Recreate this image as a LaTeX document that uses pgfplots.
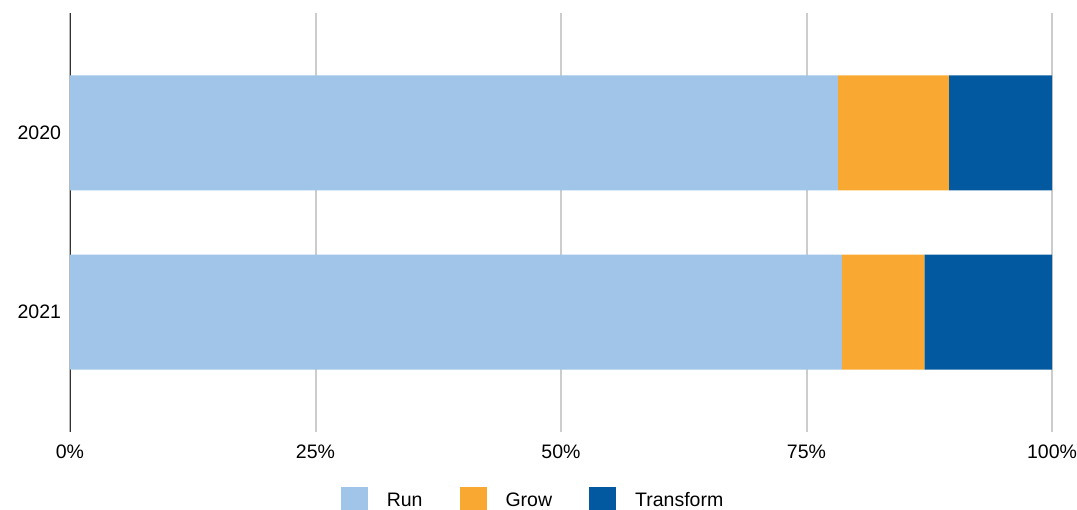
\documentclass[border=0pt]{standalone}
\usepackage{pgfplots}
\pgfplotsset{compat=1.18}
\usepackage{fontspec}
\setmainfont{Liberation Sans}
\definecolor{run}{RGB}{160,197,232}
\definecolor{grow}{RGB}{249,169,50}
\definecolor{transform}{RGB}{3,89,159}
\definecolor{axisdark}{RGB}{51,51,51}
\definecolor{gridgray}{RGB}{204,204,204}
\begin{document}
\begin{tikzpicture}[x=1pt,y=1pt]
\begin{axis}[
  at={(0,0)}, anchor=south west,
  width=982pt, height=419pt, scale only axis,
  xbar stacked, bar width=0.642,
  xmin=0, xmax=100, ymin=-0.67, ymax=1.67, y dir=reverse,
  ytick={0,1}, yticklabels={2020,2021},
  xtick={0,25,50,75,100}, xticklabels={0\%,25\%,50\%,75\%,100\%},
  major tick length=0pt,
  xmajorgrids, grid style={draw=gridgray, line width=2pt},
  axis line style={draw=none},
  ticklabel style={font=\fontsize{19.5}{23}\selectfont},
  xticklabel style={yshift=-9pt},
  yticklabel style={xshift=-5.5pt},
  /pgf/number format/assume math mode=true,
  legend columns=3,
  legend style={at={(axis description cs:0.4705,-0.1635)}, anchor=center,
    draw=none, fill=none, font=\fontsize{19.5}{23}\selectfont,
    /tikz/every even column/.append style={column sep=37pt},
    /tikz/every odd column/.append style={column sep=19pt},
    nodes={inner sep=0pt}},
  legend image code/.code={\fill[#1] (0pt,-13.5pt) rectangle (27pt,13.5pt);},
]
\addplot[fill=run, draw=none] coordinates {(78.2,0) (78.6,1)};
\addplot[fill=grow, draw=none] coordinates {(11.3,0) (8.4,1)};
\addplot[fill=transform, draw=none] coordinates {(10.5,0) (13.0,1)};
\legend{Run,Grow,Transform}
\draw[axisdark, line width=2.2pt] (rel axis cs:0,0) -- (rel axis cs:0,1);
\end{axis}
\pgfresetboundingbox
\path[use as bounding box] (-70pt,-78pt) rectangle (1007pt,432pt);
\end{tikzpicture}
\end{document}
